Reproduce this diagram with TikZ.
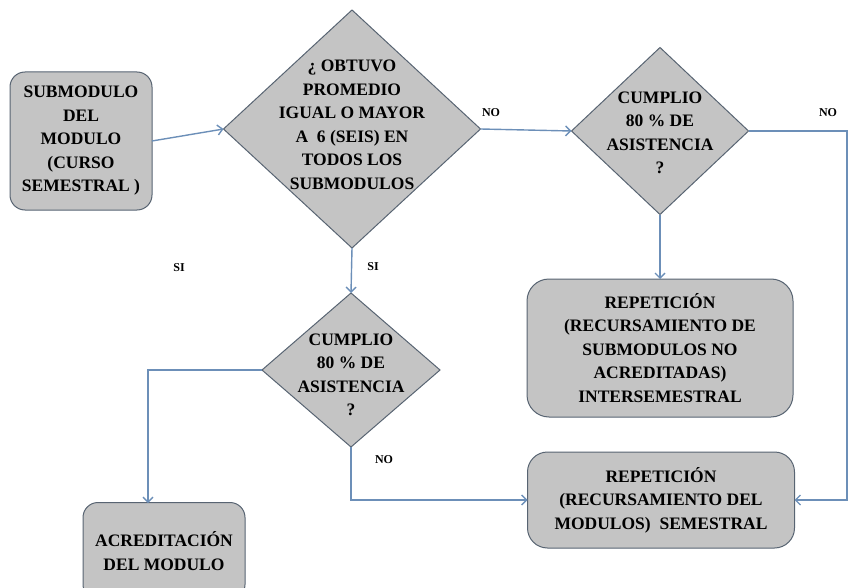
\documentclass[tikz,border=0pt]{standalone}
\usepackage{fontspec}
\setmainfont{Liberation Serif}
\newfontfamily\flowfont{Liberation Serif}
\usetikzlibrary{shapes.geometric,arrows.meta}
\definecolor{boxfill}{RGB}{196,196,196}
\definecolor{boxline}{RGB}{88,100,114}
\definecolor{flowline}{RGB}{108,143,184}
\tikzset{
  decision/.style={diamond,draw=boxline,fill=boxfill,line width=1pt,inner sep=0pt,outer sep=0pt},
  dtext/.style={align=center,font=\flowfont\bfseries\fontsize{17.5}{23.5}\selectfont,inner sep=0pt},
  procbox/.style={rectangle,rounded corners=15pt,draw=boxline,fill=boxfill,line width=1pt,align=center,
    font=\flowfont\bfseries\fontsize{17.5}{23.5}\selectfont,inner sep=0pt,outer sep=0pt},
  flow/.style={draw=flowline,line width=1.4pt,-{Straight Barb[length=5pt,width=10pt]}},
  tag/.style={font=\flowfont\bfseries\fontsize{12}{14}\selectfont,inner sep=0pt}
}
\begin{document}
\begin{tikzpicture}[x=1pt,y=-1pt]
                \useasboundingbox (0,0) rectangle (848,588);
                % cajas y rombos
                \node[procbox,minimum width=142pt,minimum height=138pt] (sub) at (81,141) {SUBMODULO\\DEL\\MODULO\\ (CURSO\\SEMESTRAL )};
                \node[decision,minimum width=257pt,minimum height=238pt] (q1) at (352,129) {};
                \node[dtext] (q1txt) at (352,125) {¿ OBTUVO\\PROMEDIO\\IGUAL O MAYOR\\A \ 6 (SEIS) EN\\TODOS LOS\\SUBMODULOS};
                \node[decision,minimum width=177pt,minimum height=167pt] (q2) at (660,131) {};
                \node[dtext] (q2txt) at (660,133) {CUMPLIO\\80 \% DE\\ASISTENCIA\\?};
                \node[decision,minimum width=178pt,minimum height=154pt] (q3) at (351,370) {};
                \node[dtext] (q3txt) at (351,375) {CUMPLIO\\80 \% DE\\ASISTENCIA\\?};
                \node[procbox,rounded corners=22pt,minimum width=266pt,minimum height=138pt] (rep1) at (660,348) {REPETICIÓN\\(RECURSAMIENTO DE\\SUBMODULOS NO\\ACREDITADAS)\\INTERSEMESTRAL};
                \node[procbox,rounded corners=20pt,minimum width=267pt,minimum height=96pt] (rep2) at (661,500) {REPETICIÓN\\(RECURSAMIENTO DEL\\MODULOS) \ SEMESTRAL};
                \node[procbox,minimum width=162pt,minimum height=97pt] (acr) at (164,551) {ACREDITACIÓN\\DEL MODULO};
                % puntos de paso
                \coordinate (acrIn) at (148,503);
                \coordinate (edgeBot) at (847,500);
                % flechas
                \draw[flow] (sub.east) -- (q1.west);
                \draw[flow] (q1.east) -- (q2.west);
                \draw[flow] (q2.south) -- (rep1.north);
                \draw[flow] (q1.south) -- (q3.north);
                \draw[flow] (q3.west) -| (acrIn);
                \draw[flow] (q3.south) |- (rep2.west);
                \draw[flow] (q2.east) -| (edgeBot) -- (rep2.east);
                % etiquetas
                \node[tag] (no1) at (491,113) {NO};
                \node[tag] (no2) at (828,113) {NO};
                \node[tag] (si1) at (373,267) {SI};
                \node[tag] (si2) at (179,268) {SI};
                \node[tag] (no3) at (384,460) {NO};
            \end{tikzpicture}
\end{document}
